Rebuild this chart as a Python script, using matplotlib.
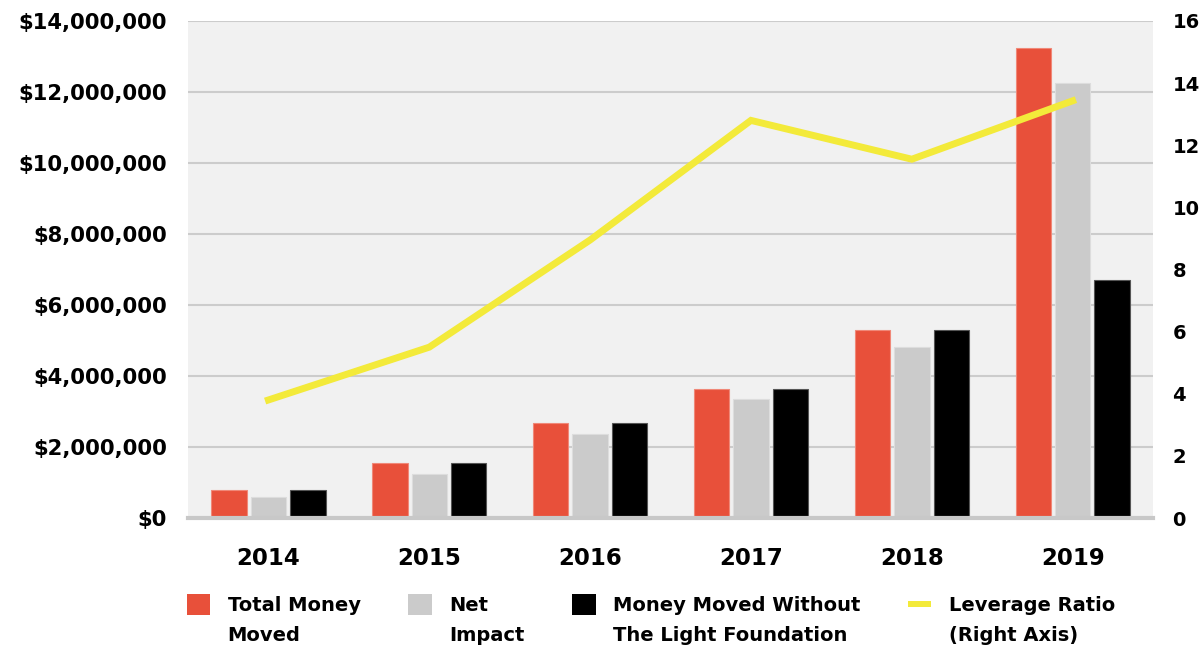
import matplotlib
matplotlib.use("Agg")
import matplotlib.pyplot as plt
import numpy as np
from matplotlib.patches import Rectangle
from matplotlib.lines import Line2D
from matplotlib.legend_handler import HandlerBase
from matplotlib.ticker import FuncFormatter, MultipleLocator

years = ["2014", "2015", "2016", "2017", "2018", "2019"]
total_money_moved = [790000, 1540000, 2680000, 3640000, 5300000, 13240000]
net_impact = [580000, 1250000, 2370000, 3350000, 4830000, 12250000]
money_without_tlf = [790000, 1540000, 2680000, 3640000, 5300000, 6700000]
leverage_ratio = [3.8, 5.5, 8.95, 12.8, 11.55, 13.43]

labels = ["Total Money\nMoved", "Net\nImpact",
          "Money Moved Without\nThe Light Foundation", "Leverage Ratio\n(Right Axis)"]

RED = "#E8503A"
GRAY = "#CBCBCB"
BLACK = "#000000"
YELLOW = "#F3EA3A"
BG = "#F1F1F1"
GRID = "#CCCCCC"

plt.rcParams['font.family'] = ['DejaVu Sans']
plt.rcParams['font.weight'] = 'bold'

fig = plt.figure(figsize=(12.02, 6.52), dpi=100)
ax = fig.add_axes([0.1564, 0.2055, 0.8029, 0.7623])
ax.set_facecolor(BG)

x = np.arange(len(years))
w = 0.22
off = 0.245
ax.bar(x - off, total_money_moved, w, color=RED, edgecolor="#F08878", linewidth=0.8, zorder=3)
ax.bar(x, net_impact, w, color=GRAY, edgecolor="#DDDDDD", linewidth=0.8, zorder=3)
ax.bar(x + off, money_without_tlf, w, color=BLACK, edgecolor="#555555", linewidth=0.8, zorder=3)

ax.set_xlim(-0.5, 5.5)
ax.set_ylim(0, 14000000)
ax.yaxis.set_major_locator(MultipleLocator(2000000))
ax.yaxis.set_major_formatter(FuncFormatter(lambda v, p: "${:,.0f}".format(v)))
ax.grid(axis='y', color=GRID, linewidth=1.5, zorder=0)
ax.set_axisbelow(True)
for s in ['top', 'right', 'left']:
    ax.spines[s].set_visible(False)
ax.spines['bottom'].set_color("#C8C8C8")
ax.spines['bottom'].set_linewidth(3)
ax.spines['bottom'].set_zorder(4)
ax.set_xticks(x)
ax.set_xticklabels(years)
ax.tick_params(axis='both', length=0)
ax.tick_params(axis='y', pad=15, labelsize=15.2)
ax.tick_params(axis='x', pad=21, labelsize=16.5)

ax2 = ax.twinx()
ax2.set_ylim(0, 16)
ax2.yaxis.set_major_locator(MultipleLocator(2))
ax2.plot(x, leverage_ratio, color=YELLOW, linewidth=5, solid_joinstyle='miter', zorder=5)
for s in ax2.spines.values():
    s.set_visible(False)
ax2.tick_params(axis='y', length=0, labelsize=14, pad=14)


class TopRect(HandlerBase):
    def __init__(self, color, hfrac=1.0, yshift=0.0):
        super().__init__()
        self.color = color
        self.hfrac = hfrac
        self.yshift = yshift

    def create_artists(self, legend, orig_handle, xdescent, ydescent, width, height, fontsize, trans):
        h = height * self.hfrac
        r = Rectangle((-xdescent, -ydescent + self.yshift * fontsize), width, h,
                      facecolor=self.color, edgecolor='none', transform=trans)
        return [r]


hs = [Rectangle((0, 0), 1, 1, color=RED), Rectangle((0, 0), 1, 1, color=GRAY),
      Rectangle((0, 0), 1, 1, color=BLACK), Line2D([0], [0], color=YELLOW)]
hmap = {hs[0]: TopRect(RED, 1.0, 0.85), hs[1]: TopRect(GRAY, 1.0, 0.85),
        hs[2]: TopRect(BLACK, 1.0, 0.85), hs[3]: TopRect(YELLOW, 0.26, 1.3)}

leg = fig.legend(hs, labels, handler_map=hmap, loc='upper left',
                 bbox_to_anchor=(0.149, 1 - 588 / 652), ncol=4, frameon=False,
                 prop={'size': 14, 'weight': 'bold'}, handlelength=1.2, handleheight=1.3,
                 handletextpad=0.9, columnspacing=2.45, labelspacing=0.3, borderaxespad=0)
for t in leg.get_texts():
    t.set_linespacing(1.75)

fig.savefig("out.png", dpi=100, facecolor="white")
